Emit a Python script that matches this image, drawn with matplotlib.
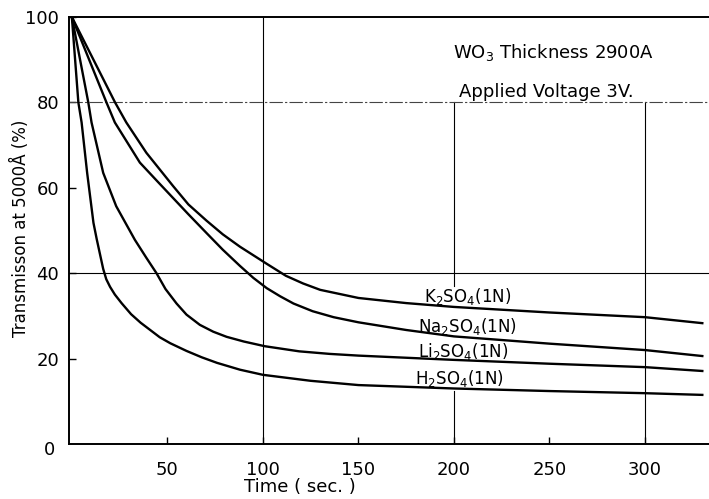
import matplotlib
matplotlib.use('Agg')
import matplotlib.pyplot as plt

# values (time in sec, transmission in %)
k2so4_t = [0, 22.6, 28.5, 39, 53, 61, 70.5, 79, 88, 102, 112, 121, 130, 150, 175, 200, 250, 300, 330]
k2so4_T = [100, 80, 75.3, 68.2, 60.4, 56.1, 52.3, 49.1, 46.2, 42.2, 39.4, 37.6, 36.1, 34.2, 33.0, 32.1, 30.8, 29.7, 28.3]

na2so4_t = [0, 18.1, 22.5, 35.6, 45, 53, 61, 70.5, 79, 88, 95, 102, 109, 116, 126, 137, 150, 175, 200, 250, 300, 330]
na2so4_T = [100, 80, 75.3, 65.9, 61.4, 57.6, 53.8, 49.4, 45.5, 41.7, 38.9, 36.5, 34.6, 32.9, 31.1, 29.7, 28.5, 26.7, 25.2, 23.5, 22.0, 20.6]

li2so4_t = [0, 8.6, 10.3, 16.4, 23.2, 33, 39, 44.3, 49, 54.8, 60, 67, 74, 81, 90, 101, 119, 135, 150, 200, 250, 300, 330]
li2so4_T = [100, 80, 75.3, 63.5, 55.7, 47.8, 43.6, 40, 36.3, 32.9, 30.3, 27.9, 26.3, 25.1, 24.0, 22.9, 21.7, 21.1, 20.7, 19.7, 18.8, 18.0, 17.1]

h2so4_t = [0, 3.4, 5.1, 8, 11.3, 13, 14.6, 16.4, 18, 20, 22.5, 26, 31, 36, 41, 46, 51.5, 60, 68, 76, 88, 100, 125, 150, 200, 250, 300, 330]
h2so4_T = [100, 80, 75.3, 63.5, 51.8, 48.0, 44.7, 41.0, 38.6, 36.8, 35.0, 33.0, 30.4, 28.4, 26.7, 25.0, 23.6, 21.8, 20.3, 19.0, 17.4, 16.2, 14.8, 13.8, 13.0, 12.4, 11.9, 11.5]

labels = ['K$_2$SO$_4$(1N)', 'Na$_2$SO$_4$(1N)', 'Li$_2$SO$_4$(1N)', 'H$_2$SO$_4$(1N)']
label_t = [207, 207, 205, 203]
label_T = [34.6, 27.5, 21.6, 15.3]

x_ticks = [50, 100, 150, 200, 250, 300]
y_ticks = [20, 40, 60, 80, 100]

fig = plt.figure(figsize=(7.09, 4.99), dpi=100)
W, H = 709, 499
ax = fig.add_axes([69 / W, 1 - 444 / H, 640 / W, (444 - 17) / H])
ax.set_xlim(-1.5, 333.5)
ax.set_ylim(0, 100)

for s in ['left', 'bottom', 'top']:
    ax.spines[s].set_linewidth(1.4)
ax.spines['right'].set_visible(False)

# partial grid lines like the original drawing
ax.axvline(100, color='k', lw=0.8)
ax.axvline(200, ymin=0.37, ymax=0.80, color='k', lw=0.8)
ax.axvline(200, ymin=0.0, ymax=0.125, color='k', lw=0.8)
ax.axvline(300, ymin=0.0, ymax=0.80, color='k', lw=0.8)
ax.axhline(40, color='k', lw=0.8)
ax.axhline(80, color='#444444', lw=0.8, linestyle=(0, (12, 2, 2, 2)))

for t, T in [(k2so4_t, k2so4_T), (na2so4_t, na2so4_T),
             (li2so4_t, li2so4_T), (h2so4_t, h2so4_T)]:
    ax.plot(t, T, color='k', lw=1.7, solid_joinstyle='round')

for lab, lt, lT in zip(labels, label_t, label_T):
    ax.text(lt, lT, lab, fontsize=12, ha='center', va='center')

ax.text(252, 91.8, 'WO$_3$ Thickness 2900A', fontsize=13, ha='center', va='center')
ax.text(248.5, 82.4, 'Applied Voltage 3V.', fontsize=13, ha='center', va='center')

ax.set_xticks(x_ticks)
ax.set_yticks(y_ticks)
ax.tick_params(axis='both', direction='in', length=5, width=1, labelsize=13)
ax.tick_params(axis='x', pad=12)
ax.tick_params(axis='y', pad=7)
ax.text(-0.03, -0.015, '0', transform=ax.transAxes, fontsize=13, ha='center', va='center')

fig.text(300 / W, 1 - 487 / H, 'Time ( sec. )', fontsize=13, ha='center', va='center')
fig.text(20 / W, 1 - 228 / H, 'Transmisson at 5000Å (%)', fontsize=12,
         rotation=90, ha='center', va='center')

fig.savefig('out.png', dpi=100)
